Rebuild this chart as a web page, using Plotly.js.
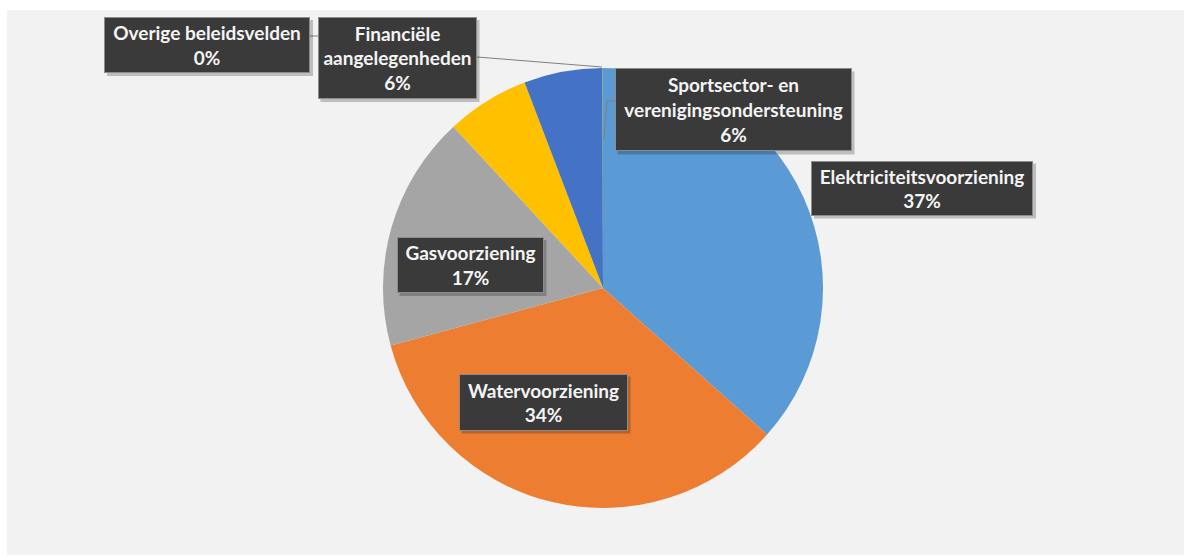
<!DOCTYPE html>
<html>
<head>
<meta charset="utf-8">
<script src="https://cdn.plot.ly/plotly-3.0.1.min.js"></script>
<style>html,body{margin:0;padding:0;background:#fff;}#chart{width:1191px;height:558px;}</style>
</head>
<body>
<div id="chart"></div>
<script>
// Data
const categories = [
  "Elektriciteitsvoorziening",
  "Watervoorziening",
  "Gasvoorziening",
  "Financiële aangelegenheden",
  "Sportsector- en verenigingsondersteuning",
  "Overige beleidsvelden"
];
const values = [36.6, 34.2, 17.3, 6.1, 5.76, 0.04];
// Label text lines as shown in the chart
const labelLines = [
  ["Elektriciteitsvoorziening"],
  ["Watervoorziening"],
  ["Gasvoorziening"],
  ["Financiële", "aangelegenheden"],
  ["Sportsector- en", "verenigingsondersteuning"],
  ["Overige beleidsvelden"]
];
const colors = ["#5B9BD5", "#ED7D31", "#A5A5A5", "#FFC000", "#4472C4", "#70AD47"];

const W = 1191, H = 558;
const px = x => x / W;
const py = y => 1 - y / H;

const total = values.reduce((a, b) => a + b, 0);
const pct = values.map(v => Math.round(v / total * 100));

// label box layout (pixels): center x, center y, width, height
const boxes = [
  {cx: 922, cy: 188, w: 222, h: 55},
  {cx: 543, cy: 402, w: 169, h: 57},
  {cx: 470, cy: 265, w: 147, h: 56},
  {cx: 397, cy: 58,  w: 159, h: 82},
  {cx: 733, cy: 110, w: 237, h: 83},
  {cx: 207, cy: 45,  w: 206, h: 56}
];

const shapes = [
  {type: "rect", xref: "paper", yref: "paper", x0: px(7), x1: px(1184), y0: py(555), y1: py(10),
   fillcolor: "#F2F2F2", line: {width: 0}, layer: "below"},
  // leader lines
  {type: "path", xref: "paper", yref: "paper", path: `M ${px(477)} ${py(57)} L ${px(602)} ${py(67)}`,
   line: {color: "#7f7f7f", width: 1}, layer: "above"},
  {type: "path", xref: "paper", yref: "paper", path: `M ${px(310)} ${py(36)} L ${px(318)} ${py(36)}`,
   line: {color: "#7f7f7f", width: 1}, layer: "above"},
  {type: "path", xref: "paper", yref: "paper", path: `M ${px(615)} ${py(101)} L ${px(607)} ${py(101)} L ${px(604)} ${py(140)}`,
   line: {color: "#7f7f7f", width: 1}, layer: "above"}
];

// box shadows
boxes.forEach(b => {
  shapes.push({type: "rect", xref: "paper", yref: "paper",
    x0: px(b.cx - b.w / 2 + 3), x1: px(b.cx + b.w / 2 + 3),
    y0: py(b.cy + b.h / 2 + 3), y1: py(b.cy - b.h / 2 + 3),
    fillcolor: "rgba(0,0,0,0.22)", line: {width: 0}, layer: "above"});
});

const annotations = categories.map((c, i) => {
  const b = boxes[i];
  const lines = labelLines[i].concat([pct[i] + "%"]);
  return {
    xref: "paper", yref: "paper", x: px(b.cx), y: py(b.cy),
    xanchor: "center", yanchor: "middle",
    text: lines.join("<br>"), showarrow: false,
    font: {family: "Lato, 'Open Sans', sans-serif", size: 19, color: "#f4f4f4", weight: "bold"},
    bgcolor: "#3a3a3a", bordercolor: "#8c8c8c", borderwidth: 1, borderpad: 0,
    width: b.w - 2, height: b.h - 2, align: "center"
  };
});

const trace = {
  type: "pie",
  labels: categories,
  values: values,
  sort: false,
  direction: "clockwise",
  rotation: 0,
  textinfo: "none",
  hoverinfo: "label+percent",
  marker: {colors: colors, line: {width: 0}},
  domain: {x: [px(383), px(823)], y: [py(508), py(68)]},
  showlegend: false
};

Plotly.newPlot("chart", [trace], {
  width: W, height: H,
  margin: {l: 0, r: 0, t: 0, b: 0},
  paper_bgcolor: "#ffffff",
  showlegend: false,
  shapes: shapes,
  annotations: annotations
}, {displayModeBar: false});
</script>
</body>
</html>
